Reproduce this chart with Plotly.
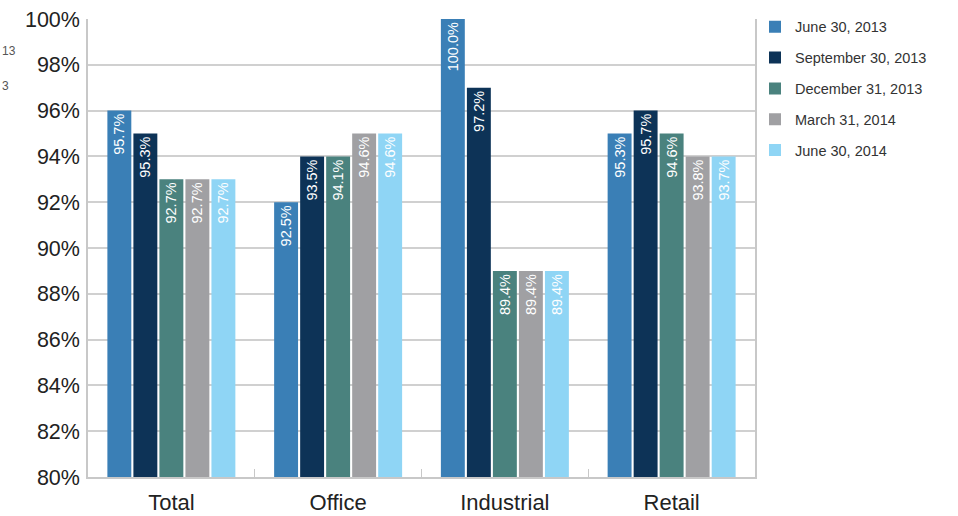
import plotly.graph_objects as go

categories = ["Total", "Office", "Industrial", "Retail"]
series_names = ["June 30, 2013", "September 30, 2013", "December 31, 2013",
                "March 31, 2014", "June 30, 2014"]
# label values printed on the bars
label_values = [
    [95.7, 92.5, 100.0, 95.3],
    [95.3, 93.5, 97.2, 95.7],
    [92.7, 94.1, 89.4, 94.6],
    [92.7, 94.6, 89.4, 93.8],
    [92.7, 94.6, 89.4, 93.7],
]
# bar heights as drawn in the reference (rounded)
bar_heights = [
    [96, 92, 100, 95],
    [95, 94, 97, 96],
    [93, 94, 89, 95],
    [93, 95, 89, 94],
    [93, 95, 89, 94],
]
colors = ["#3A7FB6", "#0D3357", "#4A827E", "#A0A0A3", "#8FD5F5"]

fig = go.Figure()
for i, name in enumerate(series_names):
    fig.add_trace(go.Bar(
        x=categories, y=bar_heights[i], name=name,
        marker=dict(color=colors[i], line=dict(width=0)),
        text=[f"{v:.1f}%" for v in label_values[i]],
        textposition="inside", insidetextanchor="end", textangle=-90,
        textfont=dict(color="white", size=14.5, family="Liberation Sans"),
        legendgroup=f"g{i}",
    ))

fig.update_layout(
    width=958, height=516,
    margin=dict(l=88, r=203, t=19, b=39, autoexpand=False),
    paper_bgcolor="white", plot_bgcolor="white",
    barmode="group", bargap=0.22, bargroupgap=0.08,
    font=dict(family="Liberation Sans", color="#222"),
    legend=dict(x=1.0, y=1.018, xanchor="left", yanchor="top",
                bgcolor="rgba(0,0,0,0)",
                font=dict(size=14.5, color="#333"), tracegroupgap=9,
                itemwidth=30),
    uniformtext=dict(mode="show", minsize=14),
    showlegend=True,
)
fig.update_yaxes(range=[80, 100], dtick=2, ticksuffix="%", automargin=False,
                 tickfont=dict(size=21.5, color="#222"), ticklabelstandoff=2,
                 showgrid=True, gridcolor="#d0d0d0", gridwidth=1.5,
                 showline=True, linecolor="#c8c8c8", linewidth=1.5, mirror=True,
                 zeroline=False, ticks="", ticklen=0)
fig.update_xaxes(tickfont=dict(size=22, color="#222"), automargin=False,
                 ticklabelstandoff=5,
                 showline=True, linecolor="#c8c8c8", linewidth=1.5,
                 ticks="inside", tickson="boundaries", ticklen=8,
                 tickcolor="#c8c8c8")

# legend remnants at the left edge
fig.add_annotation(x=-88/667, y=(477-51)/458, xref="paper", yref="paper",
                   text="13", showarrow=False, xanchor="left", yanchor="middle",
                   xshift=0, font=dict(size=12, color="#555"))
fig.add_annotation(x=-88/667, y=(477-86)/458, xref="paper", yref="paper",
                   text="3", showarrow=False, xanchor="left", yanchor="middle",
                   xshift=0, font=dict(size=12, color="#555"))

fig.write_html("out.html")
